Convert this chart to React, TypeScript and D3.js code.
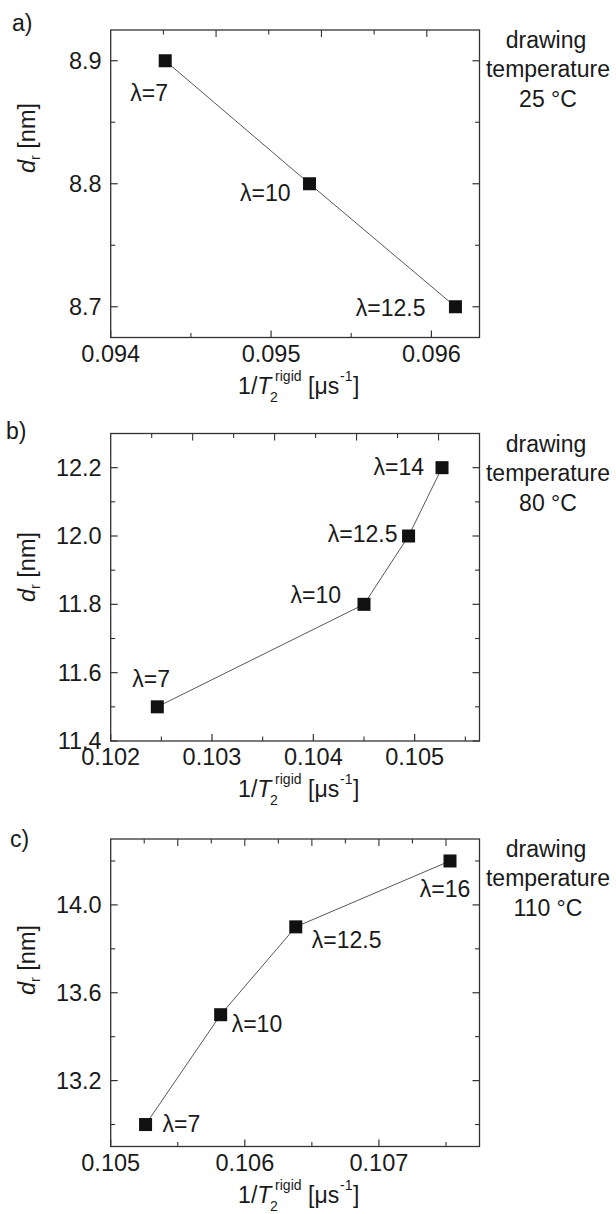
import React from 'react';
import * as d3 from 'd3';

// ---------- data ----------
const panelLetters = ['a)', 'b)', 'c)'];
const temperatureLabels = ['25 °C', '80 °C', '110 °C'];

const lambdaA = ['7', '10', '12.5'];
const invT2A = [0.09434, 0.09524, 0.09615];
const drA = [8.9, 8.8, 8.7];

const lambdaB = ['7', '10', '12.5', '14'];
const invT2B = [0.10246, 0.1045, 0.10494, 0.10527];
const drB = [11.5, 11.8, 12.0, 12.2];

const lambdaC = ['7', '10', '12.5', '16'];
const invT2C = [0.10526, 0.10582, 0.10638, 0.10753];
const drC = [13.0, 13.5, 13.9, 14.2];

const xTicksA = [0.094, 0.095, 0.096];
const yTicksA = [8.7, 8.8, 8.9];
const xTicksB = [0.102, 0.103, 0.104, 0.105];
const yTicksB = [11.4, 11.6, 11.8, 12.0, 12.2];
const xTicksC = [0.105, 0.106, 0.107];
const yTicksC = [13.2, 13.6, 14.0];

const xMinorA = [0.0945, 0.0955];
const yMinorA = [8.75, 8.85];
const xMinorB = [0.1025, 0.1035, 0.1045, 0.1055];
const yMinorB = [11.5, 11.7, 11.9, 12.1];
const xMinorC = [0.1055, 0.1065, 0.1075];
const yMinorC = [13.0, 13.4, 13.8, 14.2];

// ---------- layout ----------
const FONT = '"Liberation Sans", Arial, Helvetica, sans-serif';
const LEFT = 110.7;
const RIGHT = 479.5;
const PH = 307.5;
const INK = '#1a1a1a';

type LabelPos = { anchor: 'start' | 'middle' | 'end'; dx: number; dy: number };

const panels = [
  {
    top: 30,
    xDomain: [0.094, 0.0963],
    yDomain: [8.675, 8.925],
    lambda: lambdaA, xs: invT2A, ys: drA,
    xTicks: xTicksA, yTicks: yTicksA, xMinor: xMinorA, yMinor: yMinorA,
    yFmt: '.1f', xFmt: '.3f',
    topDiv: 7,
    labels: [
      { anchor: 'start', dx: -35, dy: 40 },
      { anchor: 'end', dx: -19, dy: 17 },
      { anchor: 'end', dx: -30, dy: 9 },
    ] as LabelPos[],
    yTitleY: 138,
    letter: { x: 12, y: 31 },
  },
  {
    top: 433.5,
    xDomain: [0.102, 0.10564],
    yDomain: [11.4, 12.3],
    lambda: lambdaB, xs: invT2B, ys: drB,
    xTicks: xTicksB, yTicks: yTicksB, xMinor: xMinorB, yMinor: yMinorB,
    yFmt: '.1f', xFmt: '.3f',
    topDiv: 9,
    labels: [
      { anchor: 'start', dx: -25, dy: -20 },
      { anchor: 'end', dx: -23, dy: -1 },
      { anchor: 'end', dx: -11, dy: 6 },
      { anchor: 'end', dx: -18, dy: 7 },
    ] as LabelPos[],
    yTitleY: 567,
    letter: { x: 6, y: 439 },
  },
  {
    top: 839,
    xDomain: [0.105, 0.10775],
    yDomain: [12.9, 14.3],
    lambda: lambdaC, xs: invT2C, ys: drC,
    xTicks: xTicksC, yTicks: yTicksC, xMinor: xMinorC, yMinor: yMinorC,
    yFmt: '.1f', xFmt: '.3f',
    topDiv: 11,
    labels: [
      { anchor: 'start', dx: 17, dy: 7 },
      { anchor: 'start', dx: 11, dy: 17 },
      { anchor: 'start', dx: 16, dy: 21 },
      { anchor: 'middle', dx: -5, dy: 36 },
    ] as LabelPos[],
    yTitleY: 960,
    letter: { x: 10, y: 847 },
  },
];

const MAJ = 7;
const MIN = 4.5;
const SQ = 13;

function Panel({ p, idx }: { p: any; idx: number }) {
  const bottom = p.top + PH;
  const x = d3.scaleLinear().domain(p.xDomain).range([LEFT, RIGHT]);
  const y = d3.scaleLinear().domain(p.yDomain).range([bottom, p.top]);
  const pts: [number, number][] = p.xs.map((v: number, i: number) => [x(v), y(p.ys[i])]);
  const line = d3.line()(pts) || '';
  const fy = d3.format(p.yFmt);
  const fx = d3.format(p.xFmt);
  const topTicks = d3.range(1, p.topDiv).map((k) => ({
    px: LEFT + ((RIGHT - LEFT) * k) / p.topDiv,
    major: k % 2 === 0,
  }));
  const midX = (LEFT + RIGHT) / 2;
  const sideX = 548;

  return (
    <g>
      {/* panel letter */}
      <text x={p.letter.x} y={p.letter.y} fontSize={23} fill={INK}>
        {panelLetters[idx]}
      </text>

      {/* frame */}
      <rect x={LEFT} y={p.top} width={RIGHT - LEFT} height={PH} fill="none" stroke="#333" strokeWidth={1.3} />

      {/* left/right y ticks */}
      {p.yTicks.map((v: number) => (
        <g key={'yt' + v}>
          <line x1={LEFT} x2={LEFT + MAJ} y1={y(v)} y2={y(v)} stroke="#333" strokeWidth={1.2} />
          <line x1={RIGHT} x2={RIGHT - MAJ} y1={y(v)} y2={y(v)} stroke="#333" strokeWidth={1.2} />
          <text x={LEFT - 9} y={y(v) + 8} fontSize={23.5} textAnchor="end" fill={INK}>
            {fy(v)}
          </text>
        </g>
      ))}
      {p.yMinor.map((v: number) => (
        <g key={'ym' + v}>
          <line x1={LEFT} x2={LEFT + MIN} y1={y(v)} y2={y(v)} stroke="#333" strokeWidth={1.1} />
          <line x1={RIGHT} x2={RIGHT - MIN} y1={y(v)} y2={y(v)} stroke="#333" strokeWidth={1.1} />
        </g>
      ))}

      {/* bottom x ticks */}
      {p.xTicks.map((v: number) => (
        <g key={'xt' + v}>
          <line x1={x(v)} x2={x(v)} y1={bottom} y2={bottom - MAJ} stroke="#333" strokeWidth={1.2} />
          <text x={x(v)} y={bottom + 24} fontSize={23.5} textAnchor="middle" fill={INK}>
            {fx(v)}
          </text>
        </g>
      ))}
      {p.xMinor.map((v: number) => (
        <line key={'xm' + v} x1={x(v)} x2={x(v)} y1={bottom} y2={bottom - MIN} stroke="#333" strokeWidth={1.1} />
      ))}

      {/* top ticks */}
      {topTicks.map((t: any, k: number) => (
        <line key={'tt' + k} x1={t.px} x2={t.px} y1={p.top} y2={p.top + (t.major ? MAJ : MIN)} stroke="#333" strokeWidth={1.1} />
      ))}

      {/* data line + markers */}
      <path d={line} fill="none" stroke="#444" strokeWidth={0.9} />
      {pts.map((pt, i) => (
        <rect key={'pt' + i} x={pt[0] - SQ / 2} y={pt[1] - SQ / 2} width={SQ} height={SQ} fill="#111" />
      ))}
      {pts.map((pt, i) => (
        <text
          key={'lb' + i}
          x={pt[0] + p.labels[i].dx}
          y={pt[1] + p.labels[i].dy}
          fontSize={23}
          textAnchor={p.labels[i].anchor}
          fill={INK}
        >
          {'λ=' + p.lambda[i]}
        </text>
      ))}

      {/* y axis title */}
      <text transform={`translate(35,${p.yTitleY}) rotate(-90)`} fontSize={23.5} textAnchor="middle" fill={INK}>
        <tspan fontStyle="italic">d</tspan>
        <tspan fontSize={14} dy={5}>r</tspan>
        <tspan dy={-5}> [nm]</tspan>
      </text>

      {/* x axis title */}
      <g fill={INK}>
        <text x={midX - 57} y={bottom + 56} fontSize={23}>
          1/<tspan fontStyle="italic">T</tspan>
        </text>
        <text x={midX - 25} y={bottom + 64} fontSize={14}>2</text>
        <text x={midX - 20} y={bottom + 43} fontSize={14}>rigid</text>
        <text x={midX + 13} y={bottom + 56} fontSize={23}>[μs</text>
        <text x={midX + 45} y={bottom + 43} fontSize={14}>-1</text>
        <text x={midX + 58} y={bottom + 56} fontSize={23}>]</text>
      </g>

      {/* side annotation */}
      <g fontSize={23} textAnchor="middle" fill={INK}>
        <text x={sideX - 2} y={p.top + 18}>drawing</text>
        <text x={sideX} y={p.top + 47}>temperature</text>
        <text x={sideX} y={p.top + 77}>{temperatureLabels[idx]}</text>
      </g>
    </g>
  );
}

export default function App() {
  return (
    <svg
      width={616}
      height={1214}
      viewBox="0 0 616 1214"
      style={{ position: 'absolute', left: 0, top: 0, background: '#fff', fontFamily: FONT }}
    >
      <rect x={0} y={0} width={616} height={1214} fill="#fff" />
      {panels.map((p, i) => (
        <Panel key={i} p={p} idx={i} />
      ))}
    </svg>
  );
}
